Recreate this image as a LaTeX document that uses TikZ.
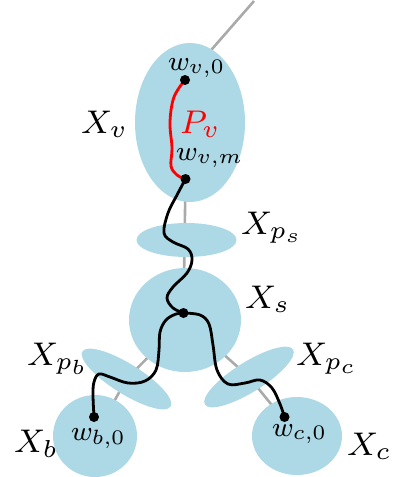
\documentclass[tikz,border=0pt]{standalone}
\usepackage{graphicx}
\usetikzlibrary{shapes.geometric,backgrounds}
\definecolor{blob}{RGB}{173,216,230}
\definecolor{treegray}{RGB}{170,170,170}
\newcommand{\bigtxt}[1]{\scalebox{4.1}{\footnotesize #1}}
\newcommand{\smalltxt}[1]{\scalebox{3.45}{\footnotesize #1}}
\tikzset{
  bag/.style={ellipse, fill=blob, draw=none, inner sep=0pt},
  treeedge/.style={draw=treegray, line width=2.6pt},
  blackpath/.style={draw=black, line width=2.8pt, line join=round, line cap=round},
  redpath/.style={draw=red, line width=2.8pt, line join=round, line cap=round},
  dotnode/.style={circle, fill=black, inner sep=0pt, minimum size=10pt},
  labelnode/.style={anchor=base west, inner sep=0pt},
}
\begin{document}
\begin{tikzpicture}[x=1pt, y=-1pt]
\useasboundingbox (0,0) rectangle (395,477);
% bags
\node[bag, minimum width=110pt, minimum height=159pt] (Xv) at (190,122.5) {};
\node[bag, minimum width=100pt, minimum height=34pt] (Xps) at (186.5,240) {};
\node[bag, minimum width=112pt, minimum height=104pt] (Xs) at (185,320) {};
\node[bag, minimum width=104pt, minimum height=30pt, rotate=-32] (Xpb) at (126.5,379) {};
\node[bag, minimum width=104pt, minimum height=30pt, rotate=32] (Xpc) at (249,377) {};
\node[bag, minimum width=84pt, minimum height=82pt] (Xb) at (95,436) {};
\node[bag, minimum width=90pt, minimum height=78pt] (Xc) at (297,436) {};
% path vertices
\coordinate (top) at (254,1);
\coordinate (wv0) at (185,80);
\coordinate (wvm) at (185.5,179);
\coordinate (ws) at (183.5,313);
\coordinate (wb0) at (94,417);
\coordinate (wc0) at (284.5,417);
% tree edges behind the bags
\begin{pgfonlayer}{background}
\draw[treeedge] (top) -- (wv0);
\draw[treeedge] (wvm) -- (ws);
\draw[treeedge] (Xs.center) -- (Xpb.center) -- (Xb.center);
\draw[treeedge] (Xs.center) -- (Xpc.center) -- (Xc.center);
\end{pgfonlayer}
% paths
\draw[redpath] plot[smooth, tension=0.6] coordinates {(wv0) (174,97) (170,122) (172,148) (171,166) (177,175) (wvm)};
\draw[blackpath] plot[smooth, tension=0.6] coordinates {(wvm) (177,195) (168,213) (164,233) (173,242) (188,249) (192,260) (187,273) (173,287) (167,298) (173,308) (ws)};
\draw[blackpath] plot[smooth, tension=0.6] coordinates {(ws) (176,314) (166,320) (160,332) (159,350) (156,370) (145,381) (128,383) (110,377) (99,374) (94,382) (93,395) (wb0)};
\draw[blackpath] plot[smooth, tension=0.6] coordinates {(ws) (200,315) (209,324) (213,345) (217,370) (228,384) (245,383) (260,380) (272,388) (280,404) (wc0)};
% dots
\node[dotnode] (d1) at (wv0) {};
\node[dotnode] (d2) at (wvm) {};
\node[dotnode] (d3) at (ws) {};
\node[dotnode] (d4) at (wb0) {};
\node[dotnode] (d5) at (wc0) {};
% labels
\node[labelnode] (lXv) at (81,133) {\bigtxt{$X_v$}};
\node[labelnode] (lwv0) at (168,70) {\smalltxt{$w_{v,0}$}};
\node[labelnode, text=red] (lPv) at (180,133) {\bigtxt{$P_v$}};
\node[labelnode] (lwvm) at (176,160) {\smalltxt{$w_{v,m}$}};
\node[labelnode] (lXps) at (241,234) {\bigtxt{$X_{p_s}$}};
\node[labelnode] (lXs) at (245,308) {\bigtxt{$X_s$}};
\node[labelnode] (lXpb) at (27,365) {\bigtxt{$X_{p_b}$}};
\node[labelnode] (lXb) at (14,452) {\bigtxt{$X_b$}};
\node[labelnode] (lXpc) at (296,365) {\bigtxt{$X_{p_c}$}};
\node[labelnode] (lXc) at (347,455) {\bigtxt{$X_c$}};
\node[labelnode] (lwb0) at (71,440) {\smalltxt{$w_{b,0}$}};
\node[labelnode] (lwc0) at (272,436) {\smalltxt{$w_{c,0}$}};
\end{tikzpicture}
\end{document}
